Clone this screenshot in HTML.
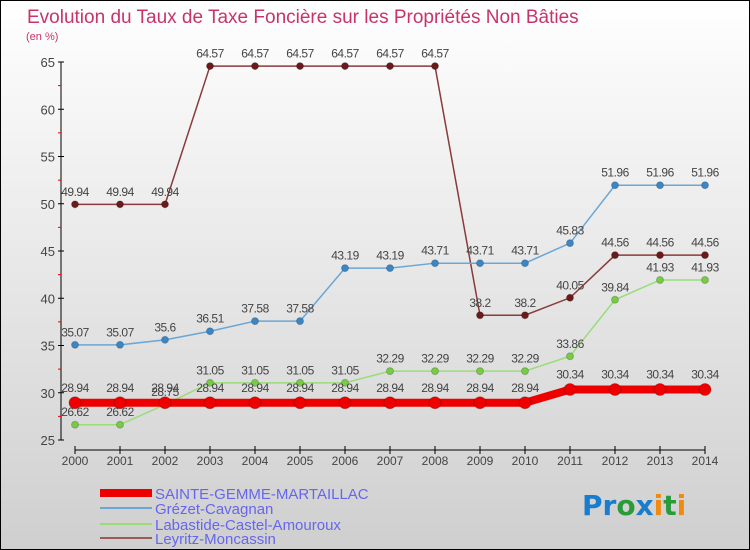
<!DOCTYPE html>
<html><head><meta charset="utf-8"><style>
body{margin:0}
#c{width:750px;height:550px;position:relative;overflow:hidden;font-family:"Liberation Sans",sans-serif}
</style></head><body>
<div id="c">
<svg id="s" width="750" height="550" xmlns="http://www.w3.org/2000/svg">
<defs><linearGradient id="bg" x1="0" y1="0" x2="0" y2="1"><stop offset="0" stop-color="#ffffff"/><stop offset="1" stop-color="#cfcfcf"/></linearGradient></defs>
<rect x="0.5" y="0.5" width="749" height="549" fill="url(#bg)" stroke="#000"/>
<text x="27" y="23" font-size="19" fill="#c8336b">Evolution du Taux de Taxe Foncière sur les Propriétés Non Bâties</text>
<text x="26" y="40" font-size="11" fill="#c8336b">(en %)</text>
<g id="axes"></g><g id="series"></g><g id="labels"></g>
<g>
<line x1="100" y1="493" x2="152" y2="493" stroke="#e00" stroke-width="8"/>
<text x="155" y="499" font-size="15" fill="#6666ee">SAINTE-GEMME-MARTAILLAC</text>
<line x1="100" y1="508" x2="152" y2="508" stroke="#6aa6d6" stroke-width="2"/>
<text x="155" y="514" font-size="15" fill="#6666ee">Grézet-Cavagnan</text>
<line x1="100" y1="524" x2="152" y2="524" stroke="#99dd77" stroke-width="2"/>
<text x="155" y="530" font-size="15" fill="#6666ee">Labastide-Castel-Amouroux</text>
<line x1="100" y1="538" x2="152" y2="538" stroke="#9a5a5a" stroke-width="2"/>
<text x="155" y="544" font-size="15" fill="#6666ee">Leyritz-Moncassin</text>
</g>
<text x="582" y="515" font-size="28" font-weight="bold" font-family="DejaVu Sans, sans-serif"><tspan fill="#1a7ccc">Pr</tspan><tspan fill="#2a9a3a">o</tspan><tspan fill="#1a7ccc">x</tspan><tspan fill="#f08a10">i</tspan><tspan fill="#2a9a3a">t</tspan><tspan fill="#f08a10">i</tspan></text>
</svg></div>
<script>
const years=[2000,2001,2002,2003,2004,2005,2006,2007,2008,2009,2010,2011,2012,2013,2014];
const yTicks=[25,30,35,40,45,50,55,60,65];
const sainte=[28.94,28.94,28.94,28.94,28.94,28.94,28.94,28.94,28.94,28.94,28.94,30.34,30.34,30.34,30.34];
const grezet=[35.07,35.07,35.6,36.51,37.58,37.58,43.19,43.19,43.71,43.71,43.71,45.83,51.96,51.96,51.96];
const labastide=[26.62,26.62,28.75,31.05,31.05,31.05,31.05,32.29,32.29,32.29,32.29,33.86,39.84,41.93,41.93];
const leyritz=[49.94,49.94,49.94,64.57,64.57,64.57,64.57,64.57,64.57,38.2,38.2,40.05,44.56,44.56,44.56];
const NS="http://www.w3.org/2000/svg";
const xs=i=>75+i*45;
const ys=v=>440-(v-25)*(378/40);
function mk(t,a,p){const e=document.createElementNS(NS,t);for(const k in a)e.setAttribute(k,a[k]);p.appendChild(e);return e;}
const ax=document.getElementById('axes');
let l=mk('line',{x1:61,y1:62,x2:61,y2:440,stroke:'#000'},ax);


yTicks.forEach((v,i)=>{
 mk('line',{x1:58,y1:ys(v),x2:64,y2:ys(v),stroke:'#000'},ax);
 if(i<yTicks.length-1){let m=mk('line',{x1:58,y1:ys(v+2.5),x2:61,y2:ys(v+2.5),stroke:'#e00'},ax);}
 const t=mk('text',{x:55,y:ys(v)+5,'text-anchor':'end','font-size':13,fill:'#444'},ax);
 t.textContent=v;
 
 
});
l=mk('line',{x1:75,y1:450,x2:705,y2:450,stroke:'#000'},ax);


years.forEach((y,i)=>{
 mk('line',{x1:xs(i),y1:446,x2:xs(i),y2:454,stroke:'#000'},ax);
 const t=mk('text',{x:xs(i),y:465,'text-anchor':'middle','font-size':12,fill:'#444'},ax);
 t.textContent=y;
 
 
});
const sg=document.getElementById('series'),lg=document.getElementById('labels');
function draw(vals,name,col,w,r,fill){
 const g=mk('g',{},sg);
 
 
 const pl=mk('polyline',{points:vals.map((v,i)=>xs(i)+','+ys(v)).join(' '),fill:'none',stroke:col,'stroke-width':w},g);
 
 
 vals.forEach((v,i)=>{
  const c=mk('circle',{cx:xs(i),cy:ys(v),r:r,fill:fill,stroke:'rgba(0,0,0,0.2)'},g);
  
  
  const t=mk('text',{x:xs(i),y:ys(v)-(r+5),'text-anchor':'middle','font-size':12,fill:'#444','letter-spacing':'-0.5'},lg);
  t.textContent=String(v);
  
  
 });
}
draw(leyritz,'leyritz','#8a3a3a',1.5,3.5,'#6a1a1a');
draw(grezet,'grezet','#6aa6d6',1.5,3.5,'#3a86c6');
draw(labastide,'labastide','#99dd77',1.5,3.5,'#77cc44');
draw(sainte,'sainte-gemme','#e00',8,6,'#e00');
</script>
</body></html>
